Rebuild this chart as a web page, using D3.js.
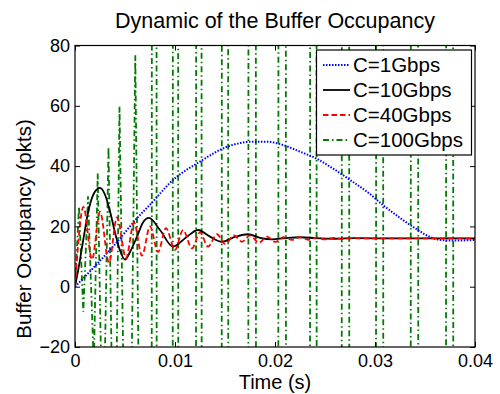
<!DOCTYPE html>
<html><head><meta charset="utf-8">
<script src="https://cdn.jsdelivr.net/npm/d3@7"></script>
<style>
html,body{margin:0;padding:0;background:#fff;}
text{font-family:"Liberation Sans",Arial,Helvetica,sans-serif;fill:#000;}
</style></head>
<body>
<svg id="chart" width="500" height="394"></svg>
<script>
// ---------- data ----------
const xTicks = [0, 0.01, 0.02, 0.03, 0.04];
const xTickLabels = ["0", "0.01", "0.02", "0.03", "0.04"];
const yTicks = [-20, 0, 20, 40, 60, 80];
const seriesNames = ["C=1Gbps", "C=10Gbps", "C=40Gbps", "C=100Gbps"];

// C=1Gbps (blue dotted)
const blueT = [0, 0.0038, 0.0065, 0.0075, 0.0098, 0.0125, 0.0152, 0.0178, 0.0192, 0.0208, 0.0225, 0.0242, 0.0258, 0.0275, 0.0292, 0.0308, 0.0325, 0.0342, 0.0355, 0.0368, 0.038, 0.04];
const blueV = [0, 13.3, 23.8, 27.2, 35.4, 41.5, 46.4, 48.1, 48.1, 47, 44.8, 42.4, 39.2, 35.4, 31.5, 27.1, 22.8, 19, 16.5, 15.4, 15.3, 15.5];

// C=10Gbps (black solid)
const blackT = [0, 0.0004, 0.0008, 0.0014, 0.0019, 0.0025, 0.003, 0.0035, 0.004, 0.0045, 0.005, 0.0055, 0.0062, 0.0068, 0.0074, 0.0085, 0.0098, 0.0112, 0.0123, 0.0135, 0.0147, 0.016, 0.0173, 0.0185, 0.0197, 0.021, 0.0225, 0.024, 0.026, 0.028, 0.032, 0.04];
const blackV = [0, 7, 15, 26, 31, 32.8, 30.5, 25, 18, 12, 9, 11.5, 16.6, 21.3, 22.8, 18.8, 13.3, 16.6, 18.8, 16.6, 14.9, 16.5, 17.4, 16.2, 15.7, 16.1, 16.4, 16.1, 15.9, 16.1, 16, 16];

// C=40Gbps (red dashed)
const redT = [0, 0.00085, 0.0017, 0.0025, 0.0034, 0.0042, 0.0051, 0.0059, 0.0067, 0.0075, 0.0083, 0.0091, 0.01, 0.0108, 0.0117, 0.0125, 0.0133, 0.0142, 0.015, 0.0159, 0.0167, 0.0175, 0.0184, 0.0192, 0.02, 0.0209, 0.0217, 0.0225, 0.0234, 0.0242, 0.025, 0.0259, 0.0267, 0.0275, 0.029, 0.04];
const redV = [0, 26.5, 9, 24.9, 8, 23, 9.5, 21.3, 10.3, 20, 11.5, 19.4, 12.2, 18.8, 12.7, 18, 13.3, 17.4, 14.2, 17, 14.9, 17, 14.6, 16.6, 14.9, 16.4, 15.5, 16.4, 15.5, 16.3, 15.7, 16.2, 15.8, 16.1, 16, 16];

// C=100Gbps (green dash-dot): growing oscillation, then spikes beyond the axis range
const greenT = [0, 0.0004, 0.00083, 0.0013, 0.00188, 0.00227, 0.0028, 0.00335, 0.00395, 0.00445, 0.0053, 0.00603, 0.0069];
const greenV = [0, 26.5, -8.3, 30, -26, 37.6, -60, 46.4, -90, 59.7, -130, 76.8, -200];
const spikeUpT   = [0.00767, 0.00977, 0.0121, 0.01467, 0.01733, 0.02033, 0.0235, 0.02667, 0.0301, 0.03357, 0.0371];
const spikeDownT = [0.00817, 0.01033, 0.01267, 0.01533, 0.0181, 0.0211, 0.02417, 0.02743, 0.03083, 0.03433, 0.03783];
const spikeLow = -60, spikeHigh = 140;

// ---------- layout ----------
const svg = d3.select("#chart");
const x = d3.scaleLinear().domain([0, 0.04]).range([75, 475]);
const y = d3.scaleLinear().domain([-20, 80]).range([347, 45.5]);

const zip = (T, V) => T.map((t, i) => [t, V[i]]);
const greenPts = zip(greenT, greenV);
spikeUpT.forEach((a, i) => {
  const b = spikeDownT[i], e = 0.00002;
  greenPts.push([a, spikeLow], [a + e, spikeHigh], [b - e, spikeHigh], [b, spikeLow]);
});
greenPts.push([0.04, spikeLow]);

svg.append("defs").append("clipPath").attr("id", "clip")
  .append("rect").attr("x", 75).attr("y", 45.5).attr("width", 400).attr("height", 301.5);

const plot = svg.append("g").attr("clip-path", "url(#clip)");
const smooth = d3.line().x(d => x(d[0])).y(d => y(d[1])).curve(d3.curveMonotoneX);
const straight = d3.line().x(d => x(d[0])).y(d => y(d[1]));

const styles = [
  {color: "#0000ff", dash: "1.5,1.5", width: 2},
  {color: "#000000", dash: null, width: 1.8},
  {color: "#ff0000", dash: "5.5,3", width: 1.8},
  {color: "#007a00", dash: "6,3,1.5,3", width: 1.8}
];

plot.append("path").attr("d", straight(greenPts)).attr("fill", "none")
  .attr("stroke", styles[3].color).attr("stroke-width", styles[3].width).attr("stroke-dasharray", styles[3].dash);
plot.append("path").attr("d", smooth(zip(blueT, blueV))).attr("fill", "none")
  .attr("stroke", styles[0].color).attr("stroke-width", styles[0].width).attr("stroke-dasharray", styles[0].dash);
plot.append("path").attr("d", smooth(zip(blackT, blackV))).attr("fill", "none")
  .attr("stroke", styles[1].color).attr("stroke-width", styles[1].width);
plot.append("path").attr("d", smooth(zip(redT, redV))).attr("fill", "none")
  .attr("stroke", styles[2].color).attr("stroke-width", styles[2].width).attr("stroke-dasharray", styles[2].dash);

// ---------- axes ----------
const fmtX = d => xTickLabels[xTicks.indexOf(d)];
const axB = svg.append("g").attr("transform", "translate(0,347)")
  .call(d3.axisBottom(x).tickValues(xTicks).tickFormat(fmtX).tickSizeInner(-5).tickSizeOuter(0).tickPadding(7));
const axT = svg.append("g").attr("transform", "translate(0,45.5)")
  .call(d3.axisTop(x).tickValues(xTicks).tickFormat("").tickSizeInner(-5).tickSizeOuter(0));
const axL = svg.append("g").attr("transform", "translate(75,0)")
  .call(d3.axisLeft(y).tickValues(yTicks).tickSizeInner(-5).tickSizeOuter(0).tickPadding(5));
const axR = svg.append("g").attr("transform", "translate(475,0)")
  .call(d3.axisRight(y).tickValues(yTicks).tickFormat("").tickSizeInner(-5).tickSizeOuter(0));
[axB, axT, axL, axR].forEach(g => {
  g.select(".domain").remove();
  g.selectAll(".tick line").attr("stroke", "#000").attr("stroke-width", 1);
  g.selectAll(".tick text").attr("font-size", 18).attr("fill", "#000")
    .style("font-family", '"Liberation Sans",Arial,Helvetica,sans-serif');
});
svg.append("rect").attr("x", 75).attr("y", 45.5).attr("width", 400).attr("height", 301.5)
  .attr("fill", "none").attr("stroke", "#000").attr("stroke-width", 1.2);

// ---------- labels ----------
svg.append("text").attr("x", 275).attr("y", 28).attr("text-anchor", "middle")
  .attr("font-size", 21.5).text("Dynamic of the Buffer Occupancy");
svg.append("text").attr("x", 275).attr("y", 389).attr("text-anchor", "middle")
  .attr("font-size", 20).text("Time (s)");
svg.append("text").attr("transform", "translate(31,229) rotate(-90)").attr("text-anchor", "middle")
  .attr("font-size", 20.5).text("Buffer Occupancy (pkts)");

// ---------- legend ----------
const lg = svg.append("g");
lg.append("rect").attr("x", 316.5).attr("y", 50).attr("width", 155).attr("height", 105)
  .attr("fill", "#fff").attr("stroke", "#000").attr("stroke-width", 1.2);
seriesNames.forEach((name, i) => {
  const yy = 65 + i * 25;
  const s = styles[i];
  lg.append("line").attr("x1", 323).attr("x2", 350).attr("y1", yy).attr("y2", yy)
    .attr("stroke", s.color).attr("stroke-width", s.width).attr("stroke-dasharray", s.dash);
  lg.append("text").attr("x", 353).attr("y", yy + 7).attr("font-size", 20.5).text(name);
});
</script>
</body></html>
